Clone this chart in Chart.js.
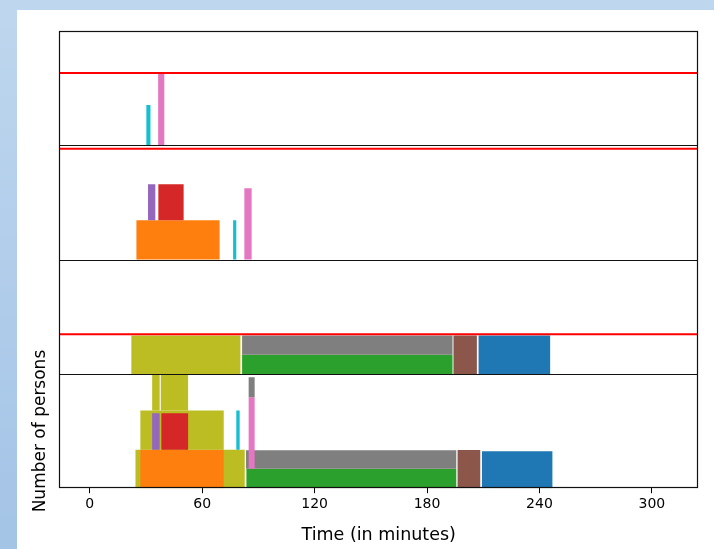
<!DOCTYPE html>
<html>
<head>
<meta charset="utf-8">
<script src="https://cdn.jsdelivr.net/npm/chart.js@4.4.1/dist/chart.umd.min.js"></script>
<style>
  html, body { margin: 0; padding: 0; }
  body { width: 714px; height: 549px; position: relative; overflow: hidden;
         background: linear-gradient(180deg, #bfd7ee 0%, #aecbea 60%, #a4c4e6 100%); }
  #paper { position: absolute; left: 17px; top: 10px; right: 0; bottom: 0; background: #fff; }
  #roomChart { position: absolute; left: 0; top: 0; }
</style>
</head>
<body>
<div id="paper"></div>
<canvas id="roomChart" width="714" height="549"></canvas>
<script>
// x axis (minutes)
var xMin = -16.2;
var xMax = 324.6;
var xTicks = [0, 60, 120, 180, 240, 300];
var yMax = 6;

// red line per room (none drawn in the last panel)
var capacity = [3.8, 5.82, 2.08, null];

// room 1
var room1Group = ['C9', 'C6'];
var room1Start = [30.2, 36.5];
var room1End   = [32.4, 39.8];
var room1Low   = [0, 0];
var room1High  = [2.11, 3.75];

// room 2
var room2Group = ['C1', 'C4', 'C3', 'C9', 'C6'];
var room2Start = [24.9, 31.1, 36.6, 76.5, 82.5];
var room2End   = [69.3, 35.0, 50.1, 78.2, 86.4];
var room2Low   = [0, 2.06, 2.06, 0, 0];
var room2High  = [2.06, 3.95, 3.95, 2.06, 3.75];

// room 3
var room3Group = ['C8', 'C2', 'C7', 'C5', 'C0'];
var room3Start = [22.2, 81.3, 81.3, 194.1, 207.5];
var room3End   = [80.4, 193.6, 193.6, 206.6, 245.7];
var room3Low   = [0, 0, 1.01, 0, 0];
var room3High  = [2.02, 1.01, 2.02, 2.02, 2.02];

// room 4
var room4Group = ['C8', 'C1', 'C8', 'C4', 'C3', 'C8', 'C8', 'C9', 'C2', 'C7', 'C6', 'C7', 'C5', 'C0'];
var room4Start = [24.4, 27.0, 27.0, 33.3, 38.2, 33.3, 37.9, 78.2, 83.6, 83.4, 84.8, 84.8, 196.3, 209.3];
var room4End   = [82.7, 71.5, 71.5, 37.3, 52.5, 37.3, 52.5, 80.0, 195.6, 195.6, 88.0, 88.0, 208.4, 246.9];
var room4Low   = [0, 0, 2.02, 2.02, 2.02, 4.08, 4.08, 2.02, 0, 1.02, 1.02, 4.78, 0, 0];
var room4High  = [2.02, 2.02, 4.08, 3.94, 3.94, 5.94, 5.94, 4.08, 1.02, 1.99, 4.78, 5.82, 2.0, 1.94];

// matplotlib tab10
var groupColors = {
    C0: '#1f77b4', C1: '#ff7f0e', C2: '#2ca02c', C3: '#d62728', C4: '#9467bd',
    C5: '#8c564b', C6: '#e377c2', C7: '#7f7f7f', C8: '#bcbd22', C9: '#17becf'
};

var rooms = [
    [room1Group, room1Start, room1End, room1Low, room1High],
    [room2Group, room2Start, room2End, room2Low, room2High],
    [room3Group, room3Start, room3End, room3Low, room3High],
    [room4Group, room4Start, room4End, room4Low, room4High]
];

var datasets = [];
var k = 0;
rooms.forEach(function(room, p) {
    var axisId = 'y' + (p + 1);
    room[0].forEach(function(g, i) {
        k++;
        datasets.push({
            data: [
                {x: room[1][i], y: room[3][i]},
                {x: room[1][i], y: room[4][i]},
                {x: room[2][i], y: room[4][i]},
                {x: room[2][i], y: room[3][i]}
            ],
            yAxisID: axisId,
            showLine: true,
            fill: 'shape',
            backgroundColor: groupColors[g],
            borderColor: 'rgba(0,0,0,0)',
            borderWidth: 0,
            pointRadius: 0,
            pointHoverRadius: 0,
            tension: 0,
            order: -k
        });
    });
    if (capacity[p] !== null) {
        datasets.push({
            data: [{x: xMin, y: capacity[p]}, {x: xMax, y: capacity[p]}],
            yAxisID: axisId,
            showLine: true,
            fill: false,
            borderColor: '#ff0000',
            borderWidth: 2,
            pointRadius: 0,
            order: -1000
        });
    }
});

// black frame around the panels, one line between neighbours
var panelFrames = {
    id: 'panelFrames',
    afterDatasetsDraw: function(chart) {
        var ctx = chart.ctx;
        var xs = chart.scales.x;
        var l = Math.round(xs.left) + 0.5;
        var r = Math.round(xs.right) - 0.5;
        var ids = ['y1', 'y2', 'y3', 'y4'];
        var top = Math.round(chart.scales.y1.top) + 0.5;
        var bottom = Math.round(chart.scales.y4.bottom) - 0.5;
        ctx.save();
        ctx.strokeStyle = '#111';
        ctx.lineWidth = 1.2;
        ctx.strokeRect(l, top, r - l, bottom - top);
        ctx.beginPath();
        ids.slice(1).forEach(function(id) {
            var y = Math.round(chart.scales[id].top) + 0.5;
            ctx.moveTo(l, y);
            ctx.lineTo(r, y);
        });
        ctx.stroke();
        ctx.restore();
    }
};

function panelAxis(n, weight) {
    return {
        type: 'linear',
        position: 'left',
        stack: 'rooms',
        stackWeight: 1,
        weight: weight,
        offset: false,
        min: 0,
        max: yMax,
        display: n === 4,
        grid: { display: false, drawTicks: false },
        border: { display: false },
        ticks: { display: false },
        title: {
            display: n === 4,
            text: 'Number of persons',
            color: '#000',
            font: { size: 17 },
            padding: { top: 4, bottom: 9 }
        }
    };
}

Chart.defaults.font.family = "'DejaVu Sans', sans-serif";
Chart.defaults.color = '#000';

new Chart(document.getElementById('roomChart'), {
    type: 'scatter',
    data: { datasets: datasets },
    options: {
        responsive: false,
        animation: false,
        events: [],
        layout: { padding: { left: 26, right: 16, top: 31, bottom: 2 } },
        plugins: { legend: { display: false }, tooltip: { enabled: false } },
        scales: {
            x: {
                type: 'linear',
                position: 'bottom',
                min: xMin,
                max: xMax,
                afterBuildTicks: function(scale) {
                    scale.ticks = xTicks.map(function(v) { return {value: v}; });
                },
                ticks: {
                    color: '#000',
                    font: { size: 14 },
                    padding: 3,
                    maxRotation: 0,
                    autoSkip: false
                },
                grid: { drawOnChartArea: false, drawTicks: true, tickLength: 5, color: '#000' },
                border: { display: false },
                title: {
                    display: true,
                    text: 'Time (in minutes)',
                    color: '#000',
                    font: { size: 17.5 },
                    padding: { top: 9, bottom: 1 }
                }
            },
            y1: panelAxis(1, 4),
            y2: panelAxis(2, 3),
            y3: panelAxis(3, 2),
            y4: panelAxis(4, 1)
        }
    },
    plugins: [panelFrames]
});
</script>
</body>
</html>
